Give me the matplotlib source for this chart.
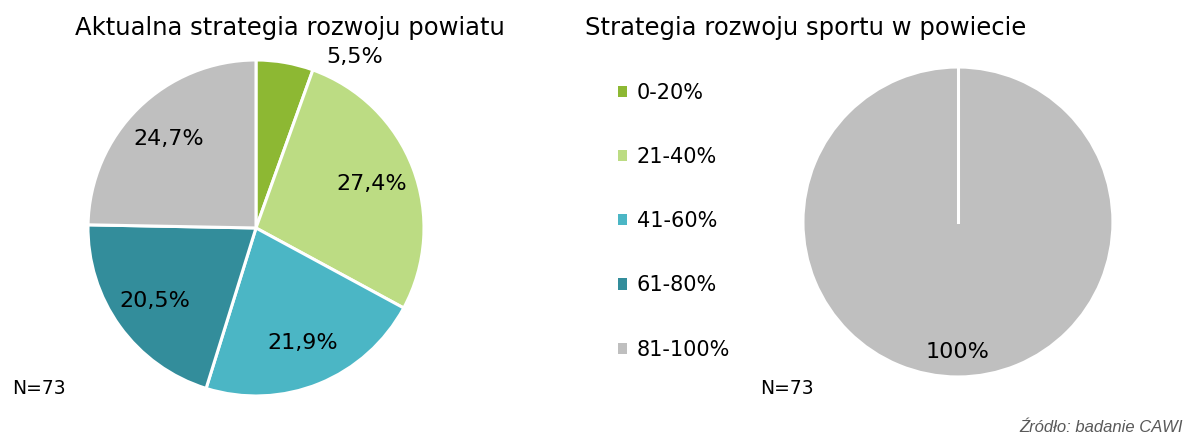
import matplotlib.pyplot as plt
import numpy as np

# dane
categories = ["0-20%", "21-40%", "41-60%", "61-80%", "81-100%"]
powiat = [5.5, 27.4, 21.9, 20.5, 24.7]
sport = [0, 0, 0, 0, 100]
colors = ["#8DB833", "#BCDC83", "#4BB6C5", "#338D9B", "#BFBFBF"]
n_resp = 73

plt.rcParams['font.family'] = ['DejaVu Sans']

fig = plt.figure(figsize=(11.94, 4.37), dpi=100)

def fmt(p):
    if p < 0.05:
        return ""
    if abs(p - 100) < 0.01:
        return "100%"
    return ("%.1f%%" % p).replace(".", ",")

# left pie
ax1 = fig.add_axes([0.0737, 0.0938, 0.2814, 0.769])
wedges, texts, autotexts = ax1.pie(powiat, colors=colors, startangle=90, counterclock=False,
                                   autopct=fmt, pctdistance=0.74,
                                   wedgeprops=dict(edgecolor="white", linewidth=2.2),
                                   textprops=dict(fontsize=16, color="black"))
autotexts[0].set_position((0.59, 1.02))
ax1.set_xlim(-1, 1)
ax1.set_ylim(-1, 1)
ax1.set_aspect("equal")

# right pie
ax2 = fig.add_axes([0.6725, 0.1373, 0.2596, 0.7094])
w2, t2, a2 = ax2.pie(sport, colors=colors, startangle=90, counterclock=False,
                     autopct=fmt, pctdistance=0.84,
                     wedgeprops=dict(edgecolor="white", linewidth=2.2),
                     textprops=dict(fontsize=16, color="black"))
# full-circle wedge has no radial edge, draw it
th = np.deg2rad(w2[-1].theta1)
ax2.plot([0, np.cos(th)], [0, np.sin(th)], color="white", lw=2.2)
ax2.set_xlim(-1, 1)
ax2.set_ylim(-1, 1)
ax2.set_aspect("equal")

fig.text(290 / 1194, 1 - 28 / 437, "Aktualna strategia rozwoju powiatu", fontsize=17.5,
         ha="center", va="center")
fig.text(806 / 1194, 1 - 28 / 437, "Strategia rozwoju sportu w powiecie", fontsize=17.5,
         ha="center", va="center")

fig.text(12 / 1194, 1 - 388 / 437, "N=%d" % n_resp, fontsize=13.5, ha="left", va="center")
fig.text(760 / 1194, 1 - 388 / 437, "N=%d" % n_resp, fontsize=13.5, ha="left", va="center")

fig.text(1183 / 1194, 1 - 428 / 437, "Źródło: badanie CAWI", fontsize=12, style="italic",
         color="#595959", family="Liberation Sans", ha="right", va="center")

leg = fig.legend(wedges, categories, loc="upper left", bbox_to_anchor=(0.5017, 0.853),
                 frameon=False, fontsize=15, handlelength=0.45, handleheight=0.45,
                 handletextpad=0.45, labelspacing=2.12)
for h in leg.legend_handles:
    h.set_edgecolor("none")

fig.savefig("out.png", dpi=100)
